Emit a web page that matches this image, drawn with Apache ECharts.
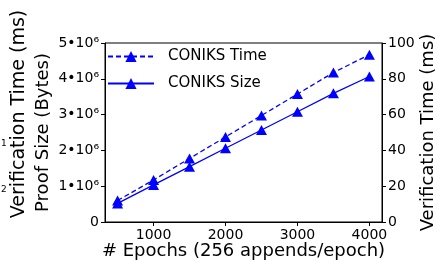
<!DOCTYPE html>
<html>
<head>
<meta charset="utf-8">
<script src="https://cdn.jsdelivr.net/npm/echarts@6/dist/echarts.min.js"></script>
<style>
  html, body { margin: 0; padding: 0; background: #fff; }
  #container { width: 440px; height: 262px; }
</style>
</head>
<body>
<div id="container"></div>
<script>
// data
const epochs = [500, 1000, 1500, 2000, 2500, 3000, 3500, 4000];
const coniksTime = [12, 23.5, 35.5, 47.5, 59.5, 71.5, 83.5, 93.5];            // ms
const coniksSize = [0.52e6, 1.035e6, 1.545e6, 2.06e6, 2.57e6, 3.08e6, 3.595e6, 4.065e6]; // bytes
const xTicks = [1000, 2000, 3000, 4000];

const font = 'DejaVu Sans';
const blue = '#0000ff';

function pairs(xs, ys) {
	return xs.map((x, i) => [x, ys[i]]);
}

var dom = document.getElementById("container");
var myChart = echarts.init(dom);

const option = {
	animation: false,
	textStyle: { fontFamily: font },
	grid: {
		left: 105, right: 58, top: 43, bottom: 40,
		outerBoundsMode: 'none',
		containLabel: false,
		show: true, borderColor: '#000', borderWidth: 1
	},
	legend: {
		orient: 'vertical',
		left: 102, top: 44,
		itemWidth: 46, itemHeight: 14, itemGap: 12,
		textStyle: { fontFamily: font, fontSize: 15, color: '#000', padding: [0, 0, 0, 9] },
		data: ['CONIKS Time', 'CONIKS Size']
	},
	xAxis: {
		type: 'value',
		min: 325, max: 4175,
		name: '# Epochs (256 appends/epoch)',
		nameLocation: 'middle',
		nameGap: 20,
		nameMoveOverlap: false,
		nameTextStyle: { fontFamily: font, fontSize: 18, color: '#000' },
		axisLine: { lineStyle: { color: '#000', width: 1 } },
		axisTick: { inside: false, length: 4, lineStyle: { color: '#000' }, customValues: xTicks },
		axisLabel: {
			fontFamily: font, fontSize: 14, color: '#000', margin: 6, customValues: xTicks,
			formatter: function (v) { return String(v); }
		},
		splitLine: { show: false }
	},
	yAxis: [{
		type: 'value',
		position: 'left',
		min: 0, max: 5e6, interval: 1e6,
		name: 'Proof Size (Bytes)',
		nameLocation: 'middle',
		nameRotate: 90,
		nameGap: 53,
		nameMoveOverlap: false,
		nameTextStyle: { fontFamily: font, fontSize: 18, color: '#000' },
		axisLine: { show: true, lineStyle: { color: '#000', width: 1 } },
		axisTick: { show: true, length: 4, lineStyle: { color: '#000' } },
		axisLabel: {
			fontFamily: font, fontSize: 14, color: '#000', margin: 6,
			formatter: function (v) { return v === 0 ? '0' : (v / 1e6) + '•10⁶'; }
		},
		splitLine: { show: false }
	}, {
		type: 'value',
		position: 'right',
		min: 0, max: 100, interval: 20,
		name: 'Verification Time (ms)',
		nameLocation: 'middle',
		nameRotate: 90,
		nameGap: 37,
		nameMoveOverlap: false,
		nameTextStyle: { fontFamily: font, fontSize: 18, color: '#000' },
		axisLine: { show: true, lineStyle: { color: '#000', width: 1 } },
		axisTick: { show: true, length: 4, lineStyle: { color: '#000' } },
		axisLabel: { fontFamily: font, fontSize: 14, color: '#000', margin: 6 },
		splitLine: { show: false }
	}],
	graphic: [
		// cut-off label of the neighbouring plot
		{ type: 'text', x: 19, y: 114, rotation: Math.PI / 2,
		  style: { text: 'Verification Time (ms)', fontFamily: font, fontSize: 19, fill: '#000', align: 'center', verticalAlign: 'middle' } },
		{ type: 'text', x: 1, y: 139, style: { text: '1', fontFamily: font, fontSize: 9, fill: '#000' } },
		{ type: 'text', x: 1, y: 185, style: { text: '2', fontFamily: font, fontSize: 9, fill: '#000' } }
	],
	series: [{
		name: 'CONIKS Time',
		type: 'line',
		yAxisIndex: 1,
		data: pairs(epochs, coniksTime),
		symbol: 'triangle',
		symbolSize: [11, 10],
		itemStyle: { color: blue },
		lineStyle: { color: blue, width: 1.3, type: [5, 3] }
	}, {
		name: 'CONIKS Size',
		type: 'line',
		yAxisIndex: 0,
		data: pairs(epochs, coniksSize),
		symbol: 'triangle',
		symbolSize: [11, 10],
		itemStyle: { color: blue },
		lineStyle: { color: blue, width: 1.3 }
	}]
};

myChart.setOption(option, true);
</script>
</body>
</html>
